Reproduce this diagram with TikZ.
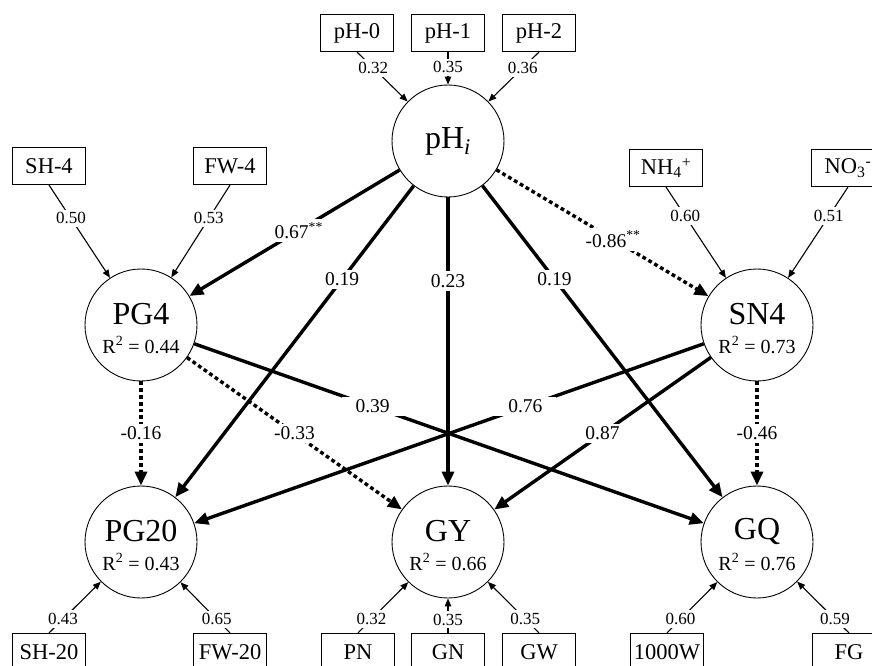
\documentclass[tikz,border=0pt]{standalone}
\usepackage{fontspec}
\setmainfont{Liberation Serif}
\usetikzlibrary{arrows.meta}

\begin{document}
\begin{tikzpicture}[x=1pt, y=-1pt,
    latent/.style={circle, draw, line width=0.9pt, minimum size=112pt, inner sep=0pt},
    obs/.style={rectangle, draw, line width=1.1pt, minimum width=73pt, minimum height=37pt, inner sep=0pt, font=\fontsize{22.5}{24}\selectfont},
    bigtxt/.style={inner sep=0pt, font=\fontsize{32}{34}\selectfont},
    rsq/.style={inner sep=0pt, font=\fontsize{20}{22}\selectfont},
    load/.style={line width=1.1pt, -{Triangle[length=8pt, width=6.5pt]}},
    effect/.style={line width=3.4pt, -{Triangle[length=14pt, width=12pt]}},
    negeffect/.style={effect, dash pattern=on 3.8pt off 3pt},
    coef/.style={fill=white, inner xsep=14pt, inner ysep=3pt, font=\fontsize{19.5}{21}\selectfont},
    lw/.style={fill=white, inner xsep=13pt, inner ysep=3pt, font=\fontsize{17}{18}\selectfont}
  ]
    \useasboundingbox (0,0) rectangle (872,666);
    \clip (0,0) rectangle (872,666);
    % Drawing the latent variables
    \node [latent] (pHi) at (448,141) {};
    \node [bigtxt] (pHi-t) at (pHi) {pH\textsubscript{\textit{i}}};
    \node [latent] (PG4) at (141,325) {};
    \node [bigtxt, yshift=11pt] (PG4-t) at (PG4) {PG4};
    \node [rsq, yshift=-20pt] (PG4-r) at (PG4) {R\textsuperscript{2} = 0.44};
    \node [latent] (SN4) at (757,325) {};
    \node [bigtxt, yshift=11pt] (SN4-t) at (SN4) {SN4};
    \node [rsq, yshift=-20pt] (SN4-r) at (SN4) {R\textsuperscript{2} = 0.73};
    \node [latent] (PG20) at (141,542) {};
    \node [bigtxt, yshift=11pt] (PG20-t) at (PG20) {PG20};
    \node [rsq, yshift=-20pt] (PG20-r) at (PG20) {R\textsuperscript{2} = 0.43};
    \node [latent] (GY) at (448,542) {};
    \node [bigtxt, yshift=11pt] (GY-t) at (GY) {GY};
    \node [rsq, yshift=-20pt] (GY-r) at (GY) {R\textsuperscript{2} = 0.66};
    \node [latent] (GQ) at (757,542) {};
    \node [bigtxt, yshift=11pt] (GQ-t) at (GQ) {GQ};
    \node [rsq, yshift=-20pt] (GQ-r) at (GQ) {R\textsuperscript{2} = 0.76};
    % Drawing the indicators
    \node [obs] (pH0) at (357,33) {pH-0};
    \node [obs] (pH1) at (448,33) {pH-1};
    \node [obs] (pH2) at (539,33) {pH-2};
    \node [obs] (SH4) at (49,166) {SH-4};
    \node [obs] (FW4) at (230,166) {FW-4};
    \node [obs] (NH4) at (666,168) {NH\textsubscript{4}\textsuperscript{+}};
    \node [obs] (NO3) at (848,168) {NO\textsubscript{3}\textsuperscript{-}};
    \node [obs] (SH20) at (49,652) {SH-20};
    \node [obs] (FW20) at (230,652) {FW-20};
    \node [obs] (PN) at (358,652) {PN};
    \node [obs] (GN) at (448,652) {GN};
    \node [obs] (GW) at (539,652) {GW};
    \node [obs] (W1000) at (667,652) {1000W};
    \node [obs] (FG) at (849,652) {FG};
    % Drawing the loadings
    \draw [load] (pH0.south) -- node [lw, pos=0.32] (l1) {0.32} (pHi);
    \draw [load] (pH1.south) -- node [lw, pos=0.47] (l2) {0.35} (pHi);
    \draw [load] (pH2.south) -- node [lw, pos=0.32] (l3) {0.36} (pHi);
    \draw [load] (SH4.south) -- node [lw, pos=0.36] (l4) {0.50} (PG4);
    \draw [load] (FW4.south) -- node [lw, pos=0.36] (l5) {0.53} (PG4);
    \draw [load] (NH4.south) -- node [lw, pos=0.32] (l6) {0.60} (SN4);
    \draw [load] (NO3.south) -- node [lw, pos=0.32] (l7) {0.51} (SN4);
    \draw [load] (SH20.north) -- node [lw, pos=0.27] (l8) {0.43} (PG20);
    \draw [load] (FW20.north) -- node [lw, pos=0.27] (l9) {0.65} (PG20);
    \draw [load] (PN.north) -- node [lw, pos=0.27] (l10) {0.32} (GY);
    \draw [load] (GN.north) -- node [lw, pos=0.39] (l11) {0.35} (GY);
    \draw [load] (GW.north) -- node [lw, pos=0.27] (l12) {0.35} (GY);
    \draw [load] (W1000.north) -- node [lw, pos=0.27] (l13) {0.60} (GQ);
    \draw [load] (FG.north) -- node [lw, pos=0.27] (l14) {0.59} (GQ);
    % Drawing the paths
    \draw [effect] (PG4) -- node [coef, pos=0.35] (e1) {0.39} (GQ);
    \draw [effect] (SN4) -- node [coef, pos=0.35] (e2) {0.76} (PG20);
    \draw [negeffect] (PG4) -- node [coef, pos=0.5] (e3) {-0.33} (GY);
    \draw [effect] (SN4) -- node [coef, pos=0.5] (e4) {0.87} (GY);
    \draw [negeffect] (PG4) -- node [coef, pos=0.5] (e5) {-0.16} (PG20);
    \draw [negeffect] (SN4) -- node [coef, pos=0.5] (e6) {-0.46} (GQ);
    \draw [effect] (pHi) -- node [coef, pos=0.3] (e7) {0.19} (PG20);
    \draw [effect] (pHi) -- node [coef, pos=0.29] (e8) {0.23} (GY);
    \draw [effect] (pHi) -- node [coef, pos=0.3] (e9) {0.19} (GQ);
    \draw [effect] (pHi) -- node [coef, pos=0.48] (e10) {0.67\textsuperscript{**}} (PG4);
    \draw [negeffect] (pHi) -- node [coef, pos=0.55] (e11) {-0.86\textsuperscript{**}} (SN4);
  \end{tikzpicture}
\end{document}
